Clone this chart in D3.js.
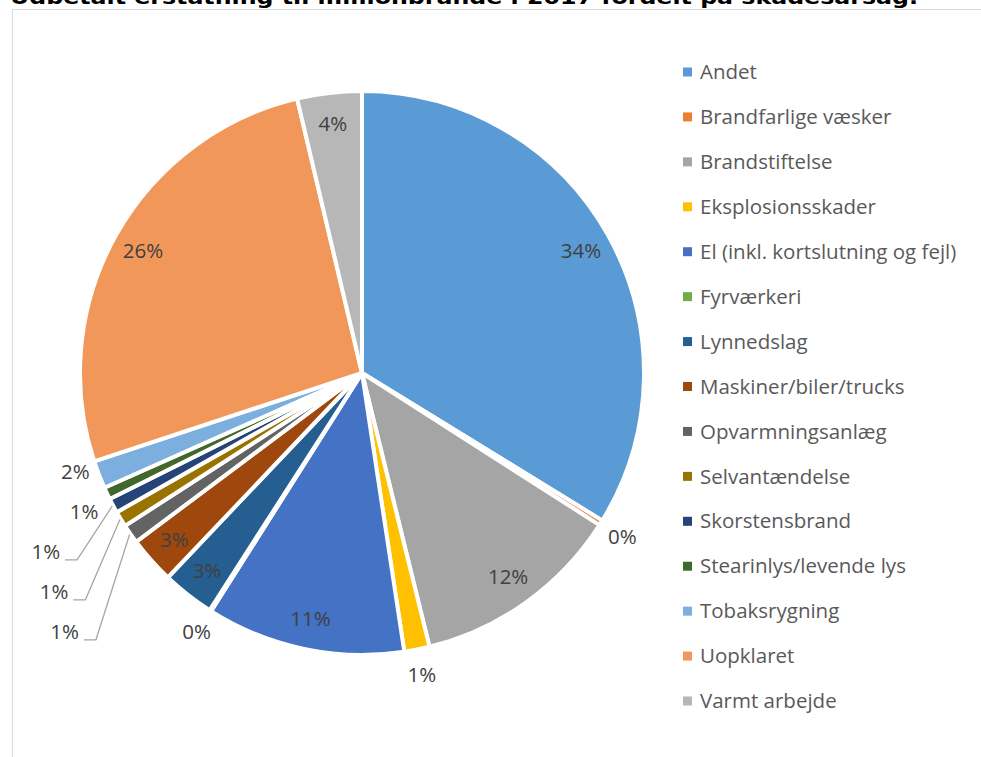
<!DOCTYPE html>
<html>
<head>
<meta charset="utf-8">
<title>Millionbrande</title>
<style>
  body { margin: 0; background: #fff; }
  svg { display: block; }
</style>
</head>
<body>
<svg id="chart" width="981" height="757"></svg>
<script src="https://cdn.jsdelivr.net/npm/d3@7"></script>
<script>
// årsager (kategorier) og andel af udbetalt erstatning
var categories = ["Andet", "Brandfarlige væsker", "Brandstiftelse", "Eksplosionsskader",
  "El (inkl. kortslutning og fejl)", "Fyrværkeri", "Lynnedslag", "Maskiner/biler/trucks",
  "Opvarmningsanlæg", "Selvantændelse", "Skorstensbrand", "Stearinlys/levende lys",
  "Tobaksrygning", "Uopklaret", "Varmt arbejde"];
var values = [33.8, 0.3, 12.1, 1.45, 11.4, 0.1, 3.0, 2.7, 1.1, 0.9, 0.85, 0.7, 1.6, 26.4, 3.7];
var colors = ["#5B9BD5", "#ED7D31", "#A5A5A5", "#FFC000", "#4472C4", "#70AD47", "#255E91",
  "#9E480E", "#636363", "#997300", "#264478", "#43682B", "#7CAFDD", "#F1975A", "#B7B7B7"];
var title = "Udbetalt erstatning til millionbrande i 2017 fordelt på skadesårsag.";

var svg = d3.select("#chart");
var W = 981, H = 757;
var cx = 362, cy = 373, R = 282;

// ramme om diagramområdet
svg.append("rect")
  .attr("x", 12.5).attr("y", 9.5)
  .attr("width", W + 20).attr("height", H + 20)
  .attr("fill", "none").attr("stroke", "#D9D9D9").attr("stroke-width", 1);

// titel (beskåret i toppen ligesom i originalen)
svg.append("text")
  .attr("x", 10).attr("y", 4)
  .attr("textLength", 908).attr("lengthAdjust", "spacingAndGlyphs")
  .style("font-family", "'DejaVu Sans', Verdana, sans-serif")
  .style("font-weight", "bold")
  .style("font-size", "20px")
  .attr("fill", "#000")
  .text(title);

var data = categories.map(function(c, i) { return { name: c, value: values[i], color: colors[i] }; });
var total = d3.sum(values);

var pie = d3.pie().sort(null).value(function(d) { return d.value; });
var arcs = pie(data);
var arc = d3.arc().innerRadius(0).outerRadius(R);

var g = svg.append("g").attr("transform", "translate(" + cx + "," + cy + ")");

g.selectAll("path.slice")
  .data(arcs)
  .enter()
  .append("path")
  .attr("class", "slice")
  .attr("d", arc)
  .attr("fill", function(d) { return d.data.color; })
  .attr("stroke", "#fff")
  .attr("stroke-width", 4)
  .attr("stroke-linejoin", "round");

// dataetiketter
function pct(d) { return Math.round(d.data.value / total * 100) + "%"; }
function mid(d) { return (d.startAngle + d.endAngle) / 2; }
function polar(a, r) { return [r * Math.sin(a), -r * Math.cos(a)]; }

var labels = arcs.map(function(d) {
  var inside = d.data.value / total * 100 >= 2.5;
  var p = polar(mid(d), inside ? R * 0.89 : R * 1.09);
  return { d: d, inside: inside, x: p[0], y: p[1], ny: p[1], leader: false };
});

// skub tætliggende udvendige etiketter i venstre side nedad
var left = labels.filter(function(l) { return !l.inside && l.x < -200; })
  .sort(function(a, b) { return a.ny - b.ny; });
for (var i = 1; i < left.length; i++) {
  var minY = left[i - 1].y + 40;
  if (left[i].y < minY) {
    left[i].y = minY;
    if (left[i].y - left[i].ny > 20) {
      left[i].leader = true;
      left[i].x -= 45;
    }
  }
}
// hele gruppen løftes lidt, som Excel gør
left.forEach(function(l) { l.y -= 12; });

var lab = g.selectAll("text.pct")
  .data(labels)
  .enter()
  .append("text")
  .attr("class", "pct")
  .attr("x", function(l) { return l.x; })
  .attr("y", function(l) { return l.y; })
  .attr("dy", "0.35em")
  .attr("text-anchor", "middle")
  .style("font-family", "'Open Sans', sans-serif")
  .style("font-size", "20.5px")
  .attr("fill", "#404040")
  .text(function(l) { return pct(l.d); });

// forbindelseslinjer
lab.each(function(l) {
  if (!l.leader) return;
  var w = this.getComputedTextLength();
  var x0 = l.x + w / 2 + 5, y0 = l.y + 8;
  var p = polar(mid(l.d), R + 1);
  g.append("path")
    .attr("d", "M" + x0 + "," + y0 + "H" + (x0 + 12) + "L" + p[0] + "," + p[1])
    .attr("fill", "none")
    .attr("stroke", "#A6A6A6")
    .attr("stroke-width", 1.3);
});

// forklaring
var legendY = d3.scalePoint().domain(categories).range([72, 701]);
var legend = svg.append("g");
var item = legend.selectAll("g.item")
  .data(data)
  .enter()
  .append("g")
  .attr("class", "item")
  .attr("transform", function(d) { return "translate(683," + legendY(d.name) + ")"; });
item.append("rect")
  .attr("x", 0).attr("y", -4.5)
  .attr("width", 9).attr("height", 9)
  .attr("fill", function(d) { return d.color; });
item.append("text")
  .attr("x", 17).attr("dy", "0.35em")
  .style("font-family", "'Open Sans', sans-serif")
  .style("font-size", "20.5px")
  .attr("fill", "#595959")
  .text(function(d) { return d.name; });
</script>
</body>
</html>
